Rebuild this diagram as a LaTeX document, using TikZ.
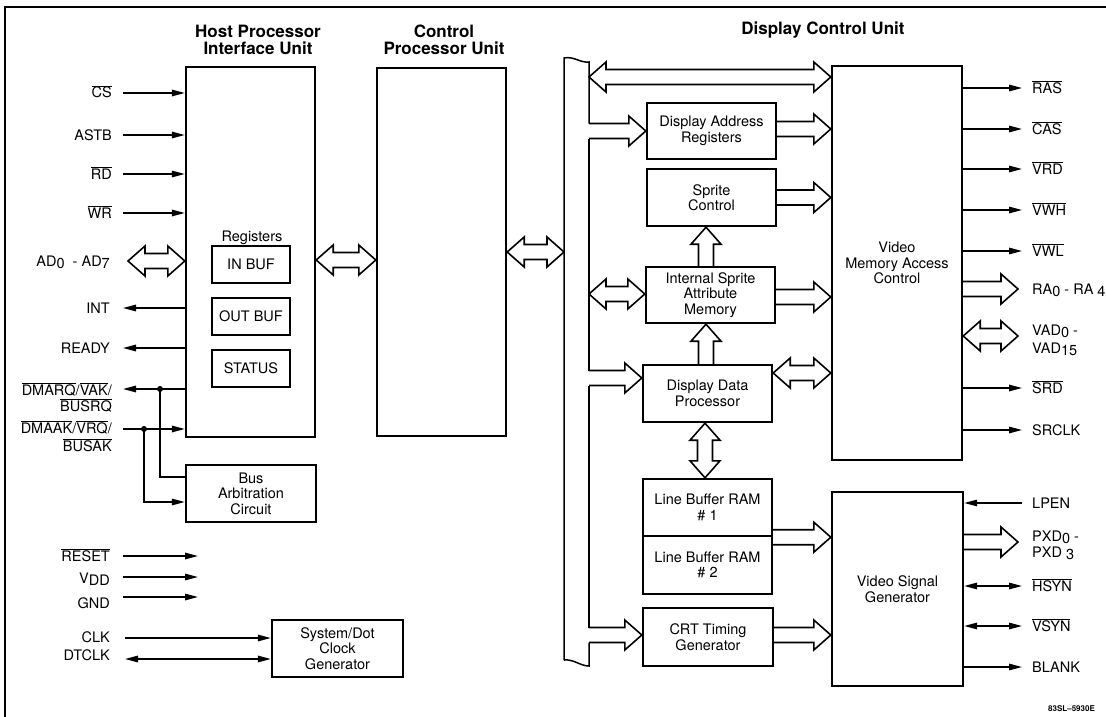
\documentclass[tikz,border=0pt]{standalone}
\usepackage{fontspec}
\setmainfont{TeX Gyre Heros}
\usetikzlibrary{arrows.meta,calc}
\newcommand\ovl[1]{$\overline{\mbox{#1}}$}
\newcommand\lo[1]{\raisebox{-2.5pt}{#1}}
\newcommand\blk[6]{\node[box,minimum width={(#4)-(#2)},minimum height={(#5)-(#3)}] (#1) at ({((#2)+(#4))/2},{((#3)+(#5))/2}) {#6};}
\newcommand\fatR[2]{\draw[fat] let \p1=#1,\p2=#2 in ({\x1},{\y1+7.5pt}) -- ({\x2-17pt},{\y1+7.5pt}) -- ({\x2-17pt},{\y1+15pt}) -- ({\x2},{\y1}) -- ({\x2-17pt},{\y1-15pt}) -- ({\x2-17pt},{\y1-7.5pt}) -- ({\x1},{\y1-7.5pt});}
\newcommand\fatLR[2]{\draw[fat] let \p1=#1,\p2=#2 in ({\x1},{\y1}) -- ({\x1+17pt},{\y1+15pt}) -- ({\x1+17pt},{\y1+7.5pt}) -- ({\x2-17pt},{\y1+7.5pt}) -- ({\x2-17pt},{\y1+15pt}) -- ({\x2},{\y1}) -- ({\x2-17pt},{\y1-15pt}) -- ({\x2-17pt},{\y1-7.5pt}) -- ({\x1+17pt},{\y1-7.5pt}) -- ({\x1+17pt},{\y1-15pt}) -- cycle;}
\newcommand\fatU[2]{\draw[fat] let \p1=#1,\p2=#2 in ({\x1-7.5pt},{\y1}) -- ({\x1-7.5pt},{\y2-17pt}) -- ({\x1-15pt},{\y2-17pt}) -- ({\x1},{\y2}) -- ({\x1+15pt},{\y2-17pt}) -- ({\x1+7.5pt},{\y2-17pt}) -- ({\x1+7.5pt},{\y1});}
\newcommand\fatUD[2]{\draw[fat] let \p1=#1,\p2=#2 in ({\x1},{\y1}) -- ({\x1-15pt},{\y1+17pt}) -- ({\x1-7.5pt},{\y1+17pt}) -- ({\x1-7.5pt},{\y2-17pt}) -- ({\x1-15pt},{\y2-17pt}) -- ({\x1},{\y2}) -- ({\x1+15pt},{\y2-17pt}) -- ({\x1+7.5pt},{\y2-17pt}) -- ({\x1+7.5pt},{\y1+17pt}) -- ({\x1+15pt},{\y1+17pt}) -- cycle;}
\newcommand\lsig[5]{\coordinate (p#1) at (123,#2); \node[lbl,anchor=base east,xshift=#5,yshift=-5pt] (l#1) at (p#1) {#3}; \draw[#4] (p#1) -- (p#1 -| host.west);}
\newcommand\rsig[5]{\coordinate (p#1) at (1022,#2); \node[lbl,anchor=base west,xshift=10pt,yshift=-5pt] (l#1) at (p#1) {#3}; \draw[#4] (p#1 -| #5.east) -- (p#1);}
\begin{document}
\begin{tikzpicture}[x=1pt,y=-1pt,
  box/.style={draw,line width=2.4pt,inner sep=0pt,align=center,font=\fontsize{14.5}{15.5}\selectfont},
  lbl/.style={inner sep=0pt,font=\fontsize{14.5}{16}\selectfont},
  hdr/.style={align=center,inner sep=0pt,font=\bfseries\fontsize{17}{16.5}\selectfont},
  wire/.style={line width=1.5pt},
  sig/.style={wire,-{Triangle[length=13pt,width=6.5pt]}},
  sigl/.style={wire,{Triangle[length=13pt,width=6.5pt]}-},
  sigb/.style={wire,{Triangle[length=13pt,width=6.5pt]}-{Triangle[length=13pt,width=6.5pt]}},
  fat/.style={line width=1.6pt,line join=miter}]
\useasboundingbox (0,0) rectangle (1106,717);
\draw[line width=2pt] (5,717) -- (5,7) -- (1106,7);

% headers
\node[hdr] (h1) at (258,40) {Host Processor\\Interface Unit};
\node[hdr] (h2) at (444,40) {Control\\Processor Unit};
\node[hdr] (h3) at (823,30) {Display Control Unit};

% blocks
\blk{host}{186}{67}{315}{437}{}
\blk{cpu}{377}{68}{506}{436}{}
\node[lbl] (regs) at (252,238) {Registers};
\blk{inbuf}{212}{246}{290}{283}{IN BUF}
\blk{outbuf}{212}{298}{290}{335}{OUT BUF}
\blk{status}{212}{350}{290}{387}{STATUS}
\blk{busarb}{186}{465}{316}{522}{Bus\\Arbitration\\Circuit}
\blk{clkgen}{272}{620}{403}{677}{System/Dot\\Clock\\Generator}
\blk{dar}{647}{103}{776}{159}{Display Address\\Registers}
\blk{sc}{647}{169}{776}{226}{Sprite\\Control}
\blk{isam}{646}{267}{775}{323}{Internal Sprite\\Attribute\\Memory}
\blk{ddp}{643}{365}{772}{422}{Display Data\\Processor}
\blk{lbone}{643}{479}{772}{536}{Line Buffer RAM\\\# 1}
\blk{lbtwo}{643}{536}{772}{594}{Line Buffer RAM\\\# 2}
\blk{crt}{643}{608}{773}{666}{CRT Timing\\Generator}
\blk{vmac}{832}{66}{962}{460}{Video\\Memory Access\\Control}
\blk{vsg}{832}{492}{963}{686}{Video Signal\\Generator}

% internal bus
\coordinate (busL) at (564,0);
\coordinate (busR) at (589,0);
\draw[wire] (busL |- 0,660) -- (busL |- 0,58) .. controls (574,56) and (580,63) .. (busR |- 0,62) -- (busR |- 0,123.5);
\draw[wire] (busR |- 0,138.5) -- (busR |- 0,370.5);
\draw[wire] (busR |- 0,385.5) -- (busR |- 0,627.5);
\draw[wire] (busR |- 0,642.5) -- (busR |- 0,666) .. controls (580,666) and (574,659) .. (busL |- 0,660);

% wide arrows
\fatLR{(host.east |- 0,260)}{(cpu.west)}
\fatLR{(cpu.east |- 0,252)}{(busL)}
\fatLR{(busR |- 0,77)}{(vmac.west)}
\fatR{(busR |- dar.west)}{(dar.west)}
\fatR{(dar.east |- 0,129)}{(vmac.west)}
\fatR{(sc.east)}{(vmac.west)}
\fatU{(isam.north -| 706,0)}{(sc.south)}
\fatLR{(busR |- 0,294)}{(isam.west)}
\fatR{(isam.east |- 0,297)}{(vmac.west)}
\fatU{(ddp.north -| 706,0)}{(isam.south)}
\fatR{(busR |- 0,378)}{(ddp.west)}
\fatLR{(ddp.east |- 0,373)}{(vmac.west)}
\fatUD{(lbone.north -| 705,0)}{(ddp.south)}
\fatR{(lbone.south east)}{(vsg.west)}
\fatR{(busR |- 0,635)}{(crt.west)}
\fatR{(crt.east |- 0,635)}{(vsg.west)}

% host signals
\lsig{cs}{93}{\ovl{CS}}{sig}{-11pt}
\lsig{astb}{135}{ASTB}{sig}{-11pt}
\lsig{rd}{174}{\ovl{RD}}{sig}{-11pt}
\lsig{wr}{213}{\ovl{WR}}{sig}{-11pt}
\coordinate (pad) at (128,261);
\node[lbl,anchor=base east] (lad) at (110,266) {AD\lo{0}\ \ - AD\lo{7}};
\fatLR{(pad)}{(host.west)}
\lsig{int}{308}{INT}{sigl}{-13pt}
\lsig{ready}{348}{READY}{sigl}{-13pt}

\coordinate (pdmarq) at (123,389);
\node[lbl,anchor=base east] (ldmarqa) at (112,395) {\ovl{DMARQ}/\ovl{VAK}/};
\node[lbl,anchor=base east] (ldmarqb) at (112,411) {\ovl{BUSRQ}};
\draw[sigl] (pdmarq) -- (pdmarq -| host.west);
\coordinate (jone) at (160,389);
\fill (jone) circle (3pt);
\draw[wire] (jone) |- (busarb.west |- 0,477);

\coordinate (pdmaak) at (123,429);
\node[lbl,anchor=base east] (ldmaaka) at (112,433) {\ovl{DMAAK}/\ovl{VRQ}/};
\node[lbl,anchor=base east] (ldmaakb) at (112,451) {\ovl{BUSAK}};
\draw[sig] (pdmaak) -- (pdmaak -| host.west);
\coordinate (jtwo) at (144,429);
\fill (jtwo) circle (3pt);
\draw[sig] (jtwo) |- (busarb.west |- 0,502);

% power / reset
\coordinate (preset) at (123,556); \coordinate (ereset) at (198,556);
\node[lbl,anchor=base east] (lreset) at (110,561) {\ovl{RESET}};
\draw[sig] (preset) -- (ereset);
\coordinate (pvdd) at (123,577); \coordinate (evdd) at (198,577);
\node[lbl,anchor=base east] (lvdd) at (110,583) {V\lo{DD}};
\draw[sig] (pvdd) -- (evdd);
\coordinate (pgnd) at (123,597); \coordinate (egnd) at (198,597);
\node[lbl,anchor=base east] (lgnd) at (110,608) {GND};
\draw[sig] (pgnd) -- (egnd);

% clocks
\coordinate (pclk) at (125,638);
\node[lbl,anchor=base east] (lclk) at (110,642) {CLK};
\draw[sig] (pclk) -- (pclk -| clkgen.west);
\coordinate (pdtclk) at (125,659);
\node[lbl,anchor=base east] (ldtclk) at (110,660) {DTCLK};
\draw[sigb] (pdtclk) -- (pdtclk -| clkgen.west);

% video memory signals
\rsig{ras}{88}{\ovl{RAS}}{sig}{vmac}
\rsig{cas}{129}{\ovl{CAS}}{sig}{vmac}
\rsig{vrd}{169}{\ovl{VRD}}{sig}{vmac}
\rsig{vwh}{210}{\ovl{VWH}}{sig}{vmac}
\rsig{vwl}{251}{\ovl{VWL}}{sig}{vmac}
\coordinate (pra) at (1018,289);
\fatR{(pra -| vmac.east)}{(pra)}
\node[lbl,anchor=base west] (lra) at (1032,294) {RA\lo{0} - RA \lo{4}};
\coordinate (pvad) at (1018,336);
\fatLR{(pvad -| vmac.east)}{(pvad)}
\node[lbl,anchor=base west] (lvada) at (1032,335) {VAD\lo{0} -};
\node[lbl,anchor=base west] (lvadb) at (1032,353) {VAD\lo{15}};
\rsig{srd}{388}{\ovl{SRD}}{sig}{vmac}
\rsig{srclk}{430}{SRCLK}{sig}{vmac}

% video signal generator signals
\rsig{lpen}{503}{LPEN}{sigl}{vsg}
\coordinate (ppxd) at (1018,542);
\fatR{(ppxd -| vsg.east)}{(ppxd)}
\node[lbl,anchor=base west] (lpxda) at (1032,541) {PXD\lo{0} -};
\node[lbl,anchor=base west] (lpxdb) at (1032,557) {PXD \lo{3}};
\rsig{hsyn}{586}{\ovl{HSYN}}{sigb}{vsg}
\rsig{vsyn}{626}{\ovl{VSYN}}{sigb}{vsg}
\rsig{blank}{667}{BLANK}{sig}{vsg}

\node[inner sep=0pt,anchor=base west,font=\bfseries\fontsize{8}{9}\selectfont] (tag) at (1048,711) {83SL–5930E};
\end{tikzpicture}
\end{document}
